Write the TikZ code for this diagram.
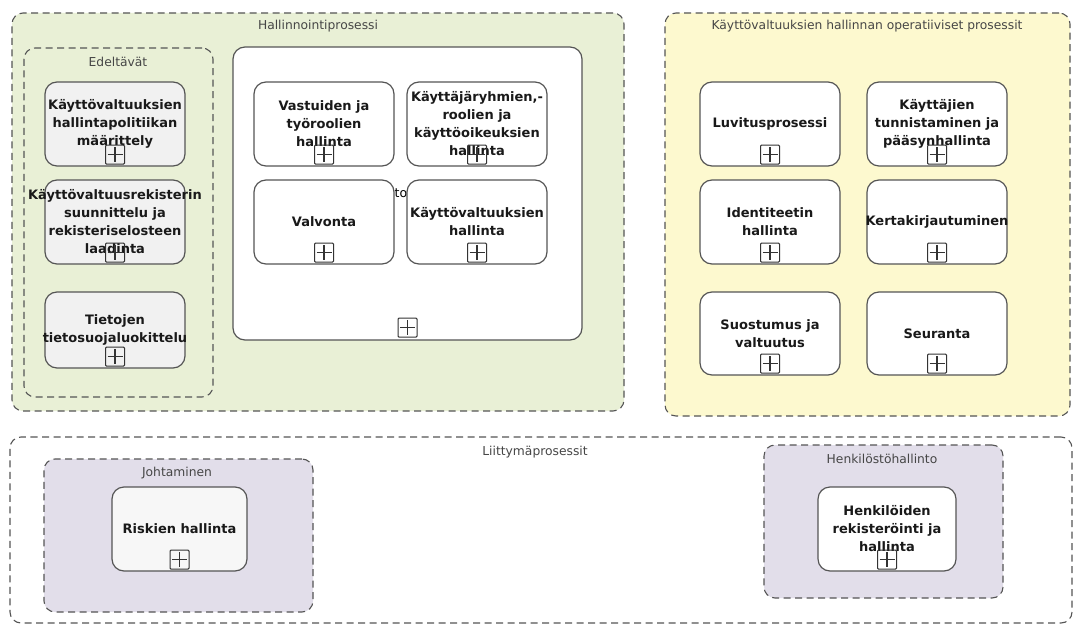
\documentclass[tikz,border=0pt]{standalone}
\usepackage{fontspec}
\setmainfont{DejaVu Sans}
\usetikzlibrary{positioning}
\definecolor{grpgreen}{RGB}{233,240,214}
\definecolor{grpyellow}{RGB}{253,249,207}
\definecolor{grplilac}{RGB}{226,222,234}
\definecolor{boxgrey}{RGB}{241,241,241}
\definecolor{edgegrey}{RGB}{85,85,85}
\definecolor{titlegrey}{RGB}{70,70,70}
% a line that may run past the edge of its box, still centred
\newcommand{\wideline}[1]{\makebox[0pt][c]{#1}}
\tikzset{
  x=1pt, y=-1pt,
  group/.style={draw=edgegrey, line width=1.1pt, dash pattern=on 7pt off 4.5pt,
    rounded corners=11pt, inner sep=0pt},
  grouptitle/.style={font=\fontsize{12.3}{14}\selectfont, text=titlegrey, inner sep=0pt},
  procbox/.style={draw=edgegrey, line width=1.2pt, fill=white, rounded corners=12pt,
    minimum width=140pt, minimum height=84pt, inner sep=0pt, align=center,
    font=\bfseries\fontsize{13}{18}\selectfont, text=black!90},
  greybox/.style={procbox, fill=boxgrey},
  plusicon/.style={draw=black!80, line width=1pt, minimum size=19pt, inner sep=0pt,
    rounded corners=1pt,
    path picture={
      \draw[line width=1.4pt] ([yshift=-2pt]path picture bounding box.north) -- ([yshift=2pt]path picture bounding box.south);
      \draw[line width=1.4pt] ([xshift=2pt]path picture bounding box.west) -- ([xshift=-2pt]path picture bounding box.east);
    }},
}
\begin{document}
\begin{tikzpicture}
\useasboundingbox (0,0) rectangle (1075,628);
\fill[white] (0,0) rectangle (1075,628);

% ---- Hallinnointiprosessi ----
\node[group, fill=grpgreen, minimum width=612pt, minimum height=398pt] (hall) at (318,212) {};
\node[grouptitle] (hallT) at (318,26) {Hallinnointiprosessi};

\node[group, fill=grpgreen, minimum width=189pt, minimum height=349pt] (edel) at (118.5,222.5) {};
\node[grouptitle] (edelT) at (118,62) {Edeltävät};

\node[draw=edgegrey, line width=1.2pt, fill=white, rounded corners=12pt,
      minimum width=349pt, minimum height=293pt, inner sep=0pt] (inner) at (407.5,193.5) {};
\node[font=\fontsize{12.5}{14}\selectfont, inner sep=0pt] (innerT) at (401,193) {to};

\node[greybox] (e1) at (115,124) {Käyttövaltuuksien\\hallintapolitiikan\\määrittely};
\node[greybox] (e2) at (115,222) {\wideline{Käyttövaltuusrekisterin}\\suunnittelu ja\\\wideline{rekisteriselosteen}\\laadinta};
\node[greybox, minimum height=76pt] (e3) at (115,330) {Tietojen\\\wideline{tietosuojaluokittelu}};

\node[procbox] (i1) at (324,124) {Vastuiden ja\\työroolien\\hallinta};
\node[procbox] (i2) at (477,124) {\wideline{Käyttäjäryhmien,-}\\roolien ja\\\wideline{käyttöoikeuksien}\\hallinta};
\node[procbox] (i3) at (324,222) {Valvonta};
\node[procbox] (i4) at (477,222) {\wideline{Käyttövaltuuksien}\\hallinta};

% ---- Operatiiviset prosessit ----
\node[group, fill=grpyellow, minimum width=405pt, minimum height=403pt] (oper) at (867.5,214.5) {};
\node[grouptitle] (operT) at (867,26) {Käyttövaltuuksien hallinnan operatiiviset prosessit};

\node[procbox] (o1) at (770,124) {Luvitusprosessi};
\node[procbox] (o2) at (937,124) {Käyttäjien\\\wideline{tunnistaminen ja}\\pääsynhallinta};
\node[procbox] (o3) at (770,222) {Identiteetin\\hallinta};
\node[procbox] (o4) at (937,222) {\wideline{Kertakirjautuminen}};
\node[procbox, minimum height=83pt] (o5) at (770,333.5) {Suostumus ja\\valtuutus};
\node[procbox, minimum height=83pt] (o6) at (937,333.5) {Seuranta};

% ---- Liittymäprosessit ----
\node[group, fill=white, minimum width=1062pt, minimum height=186pt] (liit) at (541,530) {};
\node[grouptitle] (liitT) at (535,452) {Liittymäprosessit};

\node[group, fill=grplilac, minimum width=269pt, minimum height=153pt] (joht) at (178.5,535.5) {};
\node[grouptitle] (johtT) at (177,473) {Johtaminen};
\node[procbox, fill=boxgrey!60, minimum width=135pt] (r1) at (179.5,529) {Riskien hallinta};

\node[group, fill=grplilac, minimum width=239pt, minimum height=153pt] (henk) at (883.5,521.5) {};
\node[grouptitle] (henkT) at (882,459) {Henkilöstöhallinto};
\node[procbox, minimum width=138pt] (h1) at (887,529) {Henkilöiden\\rekisteröinti ja\\hallinta};

% ---- expand markers ----
\foreach \b in {e1,e2,e3,i1,i2,i3,i4,o1,o2,o3,o4,o5,o6,r1,h1}
  \node[plusicon] (plus-\b) at ([yshift=12pt]\b.south) {};
\node[plusicon] (plus-inner) at ([yshift=13pt]inner.south) {};
\end{tikzpicture}
\end{document}
